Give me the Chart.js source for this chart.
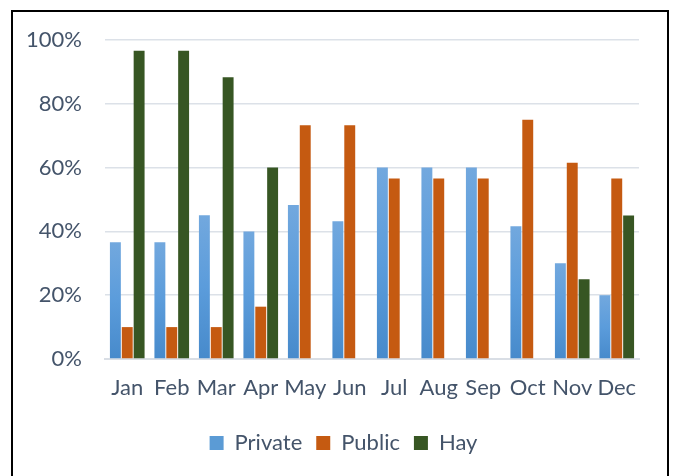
<!DOCTYPE html>
<html lang="en">
<head>
    <meta charset="UTF-8">
    <title>Monthly share by source</title>
    <style>
        body { margin: 0; background: #fff; }
        #wrap { position: relative; width: 673px; height: 476px; }
        #frame { position: absolute; left: 11px; top: 10px; width: 658px; height: 480px;
                 border: 2px solid #000; box-sizing: border-box; pointer-events: none; }
    </style>
</head>
<body>
    <div id="wrap">
        <canvas id="chart" width="673" height="476"></canvas>
        <div id="frame"></div>
    </div>

    <script src="https://cdn.jsdelivr.net/npm/chart.js"></script>
    <script>
        const months = ['Jan', 'Feb', 'Mar', 'Apr', 'May', 'Jun', 'Jul', 'Aug', 'Sep', 'Oct', 'Nov', 'Dec'];
        const privateShare = [36.6, 36.6, 45.1, 40.0, 48.3, 43.2, 60.0, 60.0, 60.0, 41.6, 30.0, 20.0];
        const publicShare = [10.0, 10.0, 10.0, 16.4, 73.3, 73.3, 56.6, 56.6, 56.6, 75.0, 61.5, 56.6];
        const hayShare = [96.6, 96.6, 88.3, 60.0, null, null, null, null, null, null, 25.0, 45.0];
        const yTicks = [0, 20, 40, 60, 80, 100];

        const textColor = '#44546A';
        const fontFamily = 'Lato, "Open Sans", sans-serif';

        // Excel style gradient: lighter at the top of each bar, darker at the base
        function privateFill(ctx) {
            const chart = ctx.chart;
            if (!chart.chartArea || ctx.raw == null) return '#5B9BD5';
            const y = chart.scales.y;
            const top = y.getPixelForValue(ctx.raw);
            const base = y.getPixelForValue(0);
            if (!isFinite(top) || base - top < 1) return '#5B9BD5';
            const g = chart.ctx.createLinearGradient(0, top, 0, base);
            g.addColorStop(0, '#72A8DE');
            g.addColorStop(0.5, '#5B9CDB');
            g.addColorStop(1, '#478ACB');
            return g;
        }

        // nudge the legend a little right, as in the original chart
        const legendShift = {
            id: 'legendShift',
            afterLayout(chart) {
                if (chart.legend) {
                    chart.legend.left += 24;
                    chart.legend.right += 24;
                }
            }
        };

        new Chart(document.getElementById('chart'), {
            type: 'bar',
            data: {
                labels: months,
                datasets: [
                    { label: 'Private', data: privateShare, backgroundColor: privateFill },
                    { label: 'Public', data: publicShare, backgroundColor: '#C55A11' },
                    { label: 'Hay', data: hayShare, backgroundColor: '#375623' }
                ]
            },
            plugins: [legendShift],
            options: {
                responsive: false,
                animation: false,
                categoryPercentage: 0.8,
                barPercentage: 0.92,
                layout: { padding: { top: 40, right: 34, bottom: 12, left: 0 } },
                plugins: {
                    tooltip: { enabled: false },
                    legend: {
                        position: 'bottom',
                        labels: {
                            color: textColor,
                            font: { family: fontFamily, size: 22 },
                            boxWidth: 14,
                            boxHeight: 14,
                            padding: 14,
                            generateLabels(chart) {
                                return chart.data.datasets.map((ds, i) => ({
                                    text: ds.label,
                                    fillStyle: i === 0 ? '#5B9BD5' : ds.backgroundColor,
                                    strokeStyle: 'rgba(0,0,0,0)',
                                    lineWidth: 0,
                                    fontColor: textColor,
                                    datasetIndex: i
                                }));
                            }
                        }
                    }
                },
                scales: {
                    x: {
                        grid: { display: false, drawTicks: false },
                        border: { color: '#D9DEE5', width: 2 },
                        ticks: {
                            color: textColor,
                            font: { family: fontFamily, size: 22 },
                            padding: 16,
                            maxRotation: 0,
                            autoSkip: false
                        },
                        afterFit(scale) { scale.height = 59; }
                    },
                    y: {
                        min: 0,
                        max: 100,
                        afterBuildTicks(scale) { scale.ticks = yTicks.map(v => ({ value: v })); },
                        grid: { color: '#DCE1E8', lineWidth: 1.5, drawTicks: false },
                        border: { display: false },
                        ticks: {
                            color: textColor,
                            font: { family: fontFamily, size: 22 },
                            padding: 23,
                            callback: v => v + '%'
                        },
                        afterFit(scale) { scale.width = 105; }
                    }
                }
            }
        });
    </script>
</body>
</html>
